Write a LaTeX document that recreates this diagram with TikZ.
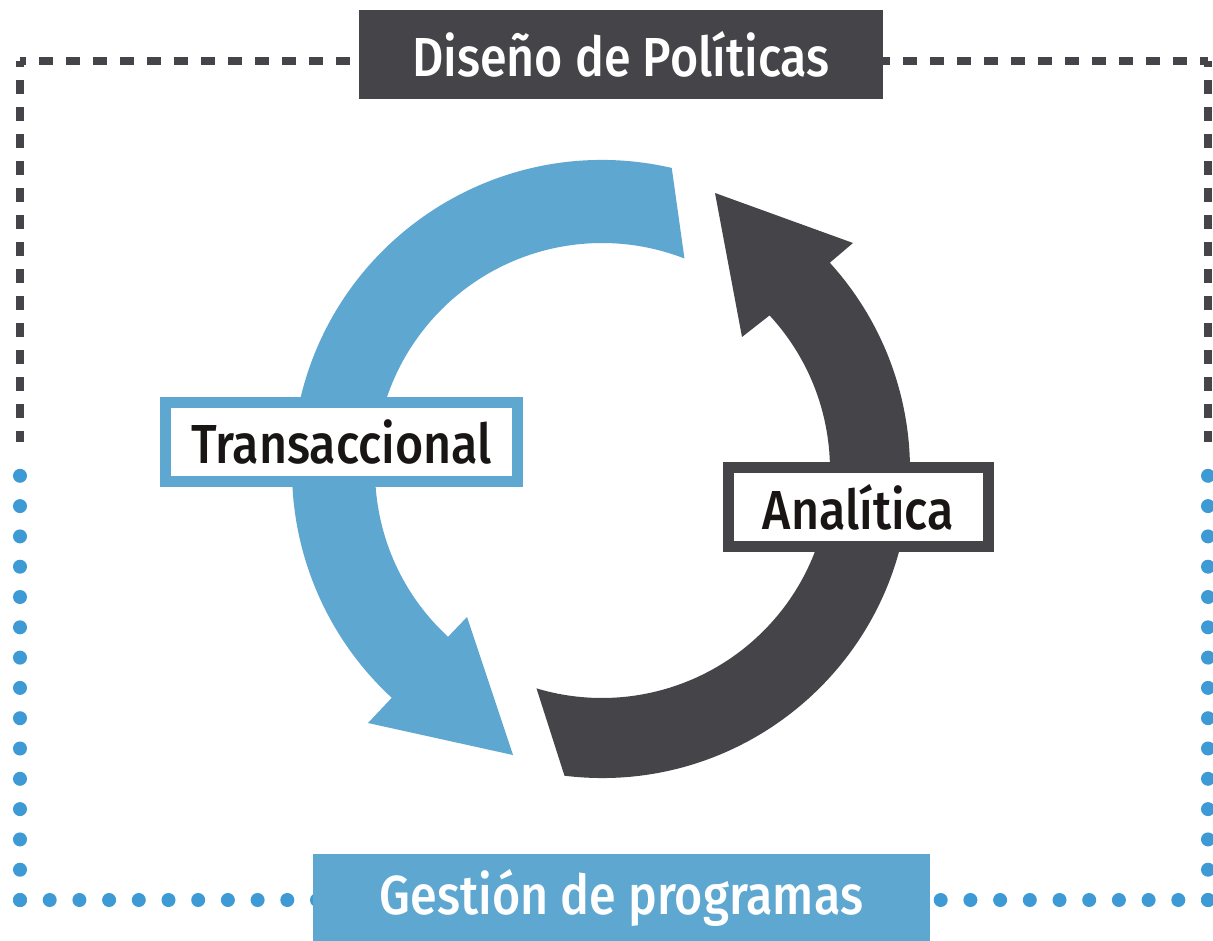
\documentclass[tikz,border=0pt]{standalone}
\usepackage{fontspec}
\newfontfamily\lf{Fira Sans Medium}[FakeStretch=0.88]
\usetikzlibrary{calc}
\definecolor{dgray}{HTML}{454448}
\definecolor{mblue}{HTML}{5DA7D1}
\definecolor{dblue}{HTML}{3E9AD4}
\definecolor{tblack}{HTML}{1A1515}
\tikzset{
  darkdash/.style={draw=dgray,line width=7.5pt,dash pattern=on 14pt off 13pt,dash phase=8pt},
  bluedots/.style={draw=dblue,line width=14pt,line cap=round,dash pattern=on 0pt off #1},
  bluedots/.default=29.7pt,
  titlebox/.style={fill=#1,text=white,inner sep=0pt,font=\lf\fontsize{55}{60}\selectfont},
  labelbox/.style={draw=#1,fill=white,line width=11pt,text=tblack,inner sep=0pt,font=\lf\fontsize{55}{60}\selectfont},
}
\begin{document}
\begin{tikzpicture}[x=1pt,y=1pt]
\useasboundingbox (0,0) rectangle (1213,-941);
\fill[white] (0,0) rectangle (1213,-941);
% frame
\coordinate (tl) at (20,-61);
\coordinate (tr) at (1208,-61);
\coordinate (lm) at (20,-442);
\coordinate (rm) at (1208,-442);
\coordinate (bl) at (20,-900);
\coordinate (br) at (1208,-900);
\coordinate (lb) at (20,-470);
\coordinate (rb) at (1208,-470);
\draw[darkdash] (tl) -- (lm);
\draw[darkdash] (tl) -- (tr);
\draw[darkdash] (tr) -- (rm);
\draw[bluedots=30.3pt] (bl) -- (lb);
\draw[bluedots] (bl) -- (br);
\draw[bluedots=30.3pt] (br) -- (rb);
% cycle arrows
\coordinate (c) at (602,-470);
\fill[mblue] ($(c)+(77:310)$) arc[start angle=77,end angle=227.3,radius=310]
  -- (368,-723) -- (513,-755) -- (467,-617)
  -- ($(c)+(227.3:227)$) arc[start angle=227.3,end angle=68.7,radius=227] -- cycle;
\fill[dgray] ($(c)+(263:308)$) arc[start angle=263,end angle=402.3,radius=308]
  -- (853,-243) -- (715,-193) -- (742,-337)
  -- ($(c)+(42.7:228)$) arc[start angle=402.7,end angle=253.3,radius=228] -- cycle;
% boxes
\node[titlebox=dgray,minimum width=524pt,minimum height=89pt] (dis) at (621,-54.5) {Diseño de Políticas};
\node[titlebox=mblue,minimum width=617pt,minimum height=87pt] (ges) at (621.5,-897.5) {Gestión de programas};
\node[labelbox=mblue,minimum width=352pt,minimum height=79pt] (tra) at (341.5,-442) {Transaccional};
\node[labelbox=dgray,minimum width=260pt,minimum height=79pt] (ana) at (858.5,-507) {Analítica};
\end{tikzpicture}
\end{document}
